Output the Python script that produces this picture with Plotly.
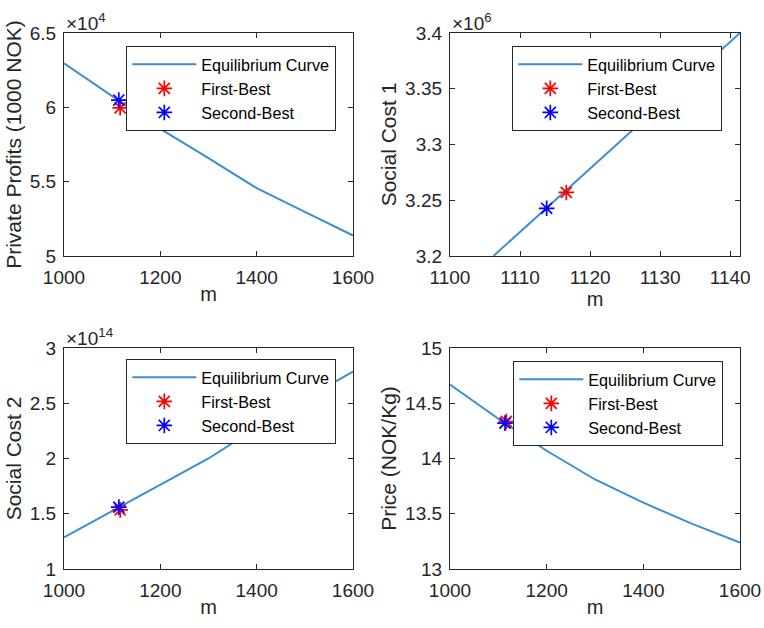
import plotly.graph_objects as go
from plotly.subplots import make_subplots

# ---------------- data ----------------
m_curve = [1000, 1100, 1200, 1300, 1400, 1500, 1600]
profits_curve = [62960, 60760, 58550, 56580, 54560, 52970, 51380]
social_cost2_curve = [1.287e14, 1.525e14, 1.757e14, 2.0e14, 2.28e14, 2.54e14, 2.787e14]
price_curve = [14.67, 14.36, 14.07, 13.81, 13.60, 13.41, 13.24]

m_curve_sc1 = [1106.2, 1141.4]
social_cost1_curve = [3.2e6, 3.4e6]

m_first_best = [1116.6]
m_second_best = [1113.8]
profits_first = [59970]
profits_second = [60490]
sc1_first = [3.2570e6]
sc1_second = [3.2428e6]
sc2_first = [1.535e14]
sc2_second = [1.560e14]
price_first = [14.335]
price_second = [14.32]

series_names = ["Equilibrium Curve", "First-Best", "Second-Best"]

x_ticks_wide = [1000, 1200, 1400, 1600]
x_ticks_narrow = [1100, 1110, 1120, 1130, 1140]
y_ticks_profits = [50000, 55000, 60000, 65000]
y_text_profits = ["5", "5.5", "6", "6.5"]
y_ticks_sc1 = [3.2e6, 3.25e6, 3.3e6, 3.35e6, 3.4e6]
y_text_sc1 = ["3.2", "3.25", "3.3", "3.35", "3.4"]
y_ticks_sc2 = [1e14, 1.5e14, 2e14, 2.5e14, 3e14]
y_text_sc2 = ["1", "1.5", "2", "2.5", "3"]
y_ticks_price = [13, 13.5, 14, 14.5, 15]
y_text_price = ["13", "13.5", "14", "14.5", "15"]

y_titles = ["Private Profits (1000 NOK)", "Social Cost 1", "Social Cost 2", "Price (NOK/Kg)"]
exponents = ["4", "6", "14", None]

# ---------------- style ----------------
FONT = "Liberation Sans, Arial, Helvetica, sans-serif"
TXT = "#262626"
CURVE = "#3A8FD0"
W, H = 764, 628

fig = make_subplots(rows=2, cols=2)

panels = [
    (1, 1, m_curve, profits_curve, profits_first, profits_second, "legend"),
    (1, 2, m_curve_sc1, social_cost1_curve, sc1_first, sc1_second, "legend2"),
    (2, 1, m_curve, social_cost2_curve, sc2_first, sc2_second, "legend3"),
    (2, 2, m_curve, price_curve, price_first, price_second, "legend4"),
]

for r, c, xs, ys, yf, ysb, leg in panels:
    fig.add_trace(go.Scatter(x=xs, y=ys, mode="lines", name=series_names[0],
                             line=dict(color=CURVE, width=2), legend=leg),
                  row=r, col=c)
    fig.add_trace(go.Scatter(x=m_first_best, y=yf, mode="markers", name=series_names[1],
                             marker=dict(symbol="asterisk-open", size=13, color="#FF0000",
                                         line=dict(color="#FF0000", width=1.7)),
                             legend=leg), row=r, col=c)
    fig.add_trace(go.Scatter(x=m_second_best, y=ysb, mode="markers", name=series_names[2],
                             marker=dict(symbol="asterisk-open", size=13, color="#0000FF",
                                         line=dict(color="#0000FF", width=1.7)),
                             legend=leg), row=r, col=c)

# domains (pixels -> paper)
x_dom = [(64 / W, 353 / W), (450 / W, 740 / W)]
y_dom = [(1 - 256 / H, 1 - 33 / H), (1 - 569 / H, 1 - 348 / H)]

axis_common = dict(showline=True, linecolor=TXT, linewidth=1.3, mirror="allticks",
                   ticks="inside", ticklen=5, tickcolor=TXT, showgrid=False,
                   zeroline=False, automargin=False,
                   tickfont=dict(family=FONT, size=19, color=TXT))

ranges_x = [[1000, 1600], [1100, 1141.4], [1000, 1600], [1000, 1600]]
ticks_x = [x_ticks_wide, x_ticks_narrow, x_ticks_wide, x_ticks_wide]
ranges_y = [[50000, 65000], [3.2e6, 3.4e6], [1e14, 3e14], [13, 15]]
ticks_y = [(y_ticks_profits, y_text_profits), (y_ticks_sc1, y_text_sc1),
           (y_ticks_sc2, y_text_sc2), (y_ticks_price, y_text_price)]

for i in range(4):
    r, c = divmod(i, 2)
    sfx = "" if i == 0 else str(i + 1)
    fig.layout["xaxis" + sfx].update(
        domain=x_dom[c], range=ranges_x[i], tickvals=ticks_x[i], ticklabelstandoff=4,
        title=dict(text="m", font=dict(family=FONT, size=20, color=TXT), standoff=0),
        **axis_common)
    fig.layout["yaxis" + sfx].update(
        domain=y_dom[r], range=ranges_y[i], tickvals=ticks_y[i][0], ticktext=ticks_y[i][1],
        ticklabelstandoff=3,
        title=dict(text=y_titles[i], font=dict(family=FONT, size=21, color=TXT), standoff=2),
        **axis_common)
    if exponents[i]:
        fig.add_annotation(xref=("x" + sfx + " domain"), yref=("y" + sfx + " domain"),
                           x=0, y=1, xanchor="left", yanchor="bottom", yshift=-3,
                           text="\u00d710<sup>" + exponents[i] + "</sup>", showarrow=False,
                           font=dict(family=FONT, size=19, color=TXT))

legend_style = dict(bgcolor="white", bordercolor=TXT, borderwidth=1.3,
                    font=dict(family=FONT, size=16.2, color="#000000"),
                    xanchor="left", yanchor="top", itemwidth=64, tracegroupgap=0)
legend_pos = [(126 / W, 1 - 46 / H), (512 / W, 1 - 46 / H),
              (126 / W, 1 - 359 / H), (513 / W, 1 - 361 / H)]
for i, (lx, ly) in enumerate(legend_pos):
    key = "legend" if i == 0 else "legend" + str(i + 1)
    fig.layout[key] = dict(x=lx, y=ly, **legend_style)

fig.update_layout(width=W, height=H, margin=dict(l=0, r=0, t=0, b=0, autoexpand=False),
                  paper_bgcolor="white", plot_bgcolor="white", showlegend=True,
                  font=dict(family=FONT, color=TXT))

fig.write_html("out.html", config={"displayModeBar": False},
               post_script="document.body.style.margin='0';document.body.style.overflow='hidden';")
